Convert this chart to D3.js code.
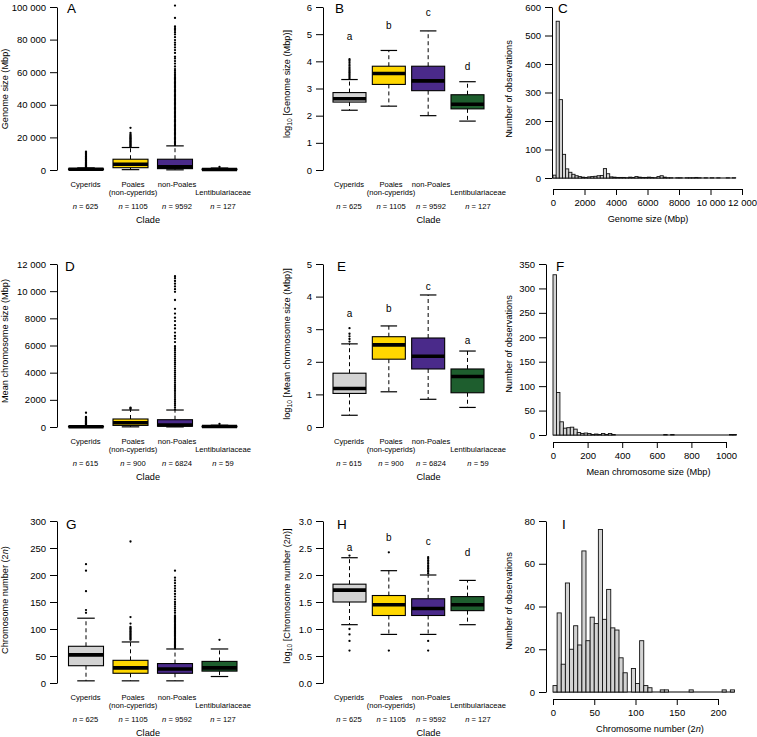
<!DOCTYPE html>
<html><head><meta charset="utf-8">
<script src="https://cdn.jsdelivr.net/npm/d3@7"></script>
<style>
body{margin:0;background:#fff}
svg text{font-family:"Liberation Sans",Arial,Helvetica,sans-serif;fill:#000}
</style></head><body>
<svg id="chart" width="757" height="737"></svg>
<script>
// ---------------- DATA ----------------
const cladeLabelLines = [["Cyperids",""],["Poales","(non-cyperids)"],["non-Poales",""],["","Lentibulariaceae"]];
const cladeColors = ["#d3d3d3","#ffd700","#4a2a8a","#1e5e2e"];

const nGenome = [625,1105,9592,127];
const nChromSize = [615,900,6824,59];
const nChromNum = [625,1105,9592,127];

// box stats: [lower whisker, Q1, median, Q3, upper whisker]
const genomeStats = [[60,316,417,708,1290],[220,1413,3548,6607,13800],[100,832,1905,6607,14800],[62,178,263,589,1200]];
const genomeOutliers = [
  [1350,1600,1900,2200,2500,2800,3100,3400,3700,4000,4400,4800,5200,5600,6000,6400,6800,7200,7600,8000,8500,9000,9500,10000,10600,11200],
  [14200,14700,15200,15700,16200,16700,17200,17700,18200,18700,19200,19700,20200,20700,21300,22000,22800,25900],
  [15200,16000,16800,17600,18400,19200,20000,20800,21600,22400,23200,24000,24800,25600,26400,27200,28000,28800,29600,30400,31200,32000,32800,33600,34400,35200,36000,36800,37600,38400,39200,40000,40800,41600,42400,43200,44000,44800,45600,46400,47200,48000,48800,49600,50400,51200,52000,52800,53600,54400,55200,56000,56800,57600,58400,59500,60800,61900,63500,65300,66800,68400,69500,71800,73600,75200,76800,78100,79700,81500,83200,84500,85900,87000,88100,93300,100900],
  [1900]
];
const logGenomeStats = [[2.2,2.5,2.62,2.85,3.33],[2.35,3.15,3.55,3.82,4.4],[2.0,2.92,3.28,3.82,5.12],[1.8,2.25,2.42,2.77,3.25]];
const logGenomeOutliers = [[3.37,3.42,3.47,3.52,3.57,3.62,3.67,3.72,3.78,3.84,3.9,3.97,4.03,4.08],[],[],[]];
const logGenomeLetters = ["a","b","c","d"];
const logGenomeLetterY = [4.92,5.31,5.78,3.81];

const genomeHistCounts = [10,550,275,83,32,20,13,8,5,3, 2,4,5,6,8,9,33,15,4,3, 2,2,2,1,3,2,5,3,2,2, 3,2,1,5,8,3,1,1,0,1, 1,0,1,1,1,2,1,0,1,0, 1,0,1,0,0,1,0,1];
const genomeHistBin = 200;

const chromSizeStats = [[3,11,15,45,95],[12,117,316,589,1250],[7,60,148,537,1250],[4,11,35,60,130]];
const chromSizeOutliers = [
  [105,130,160,190,220,250,280,310,340,370,400,430,460,500,540,580,620,660,700,740,1050],
  [1320,1380,1430],
  [1300,1450,1600,1750,1900,2050,2200,2350,2500,2650,2800,2950,3100,3250,3400,3550,3700,3850,4000,4150,4300,4450,4600,4750,4900,5050,5200,5350,5500,5650,5800,5950,6250,6500,6700,6950,7250,7500,7800,8050,8350,8700,9350,9950,10150,10350,10550,10750,10950,11100],
  [230]
];
const logChromSizeStats = [[0.36,1.03,1.18,1.65,2.55],[1.08,2.08,2.52,2.77,3.1],[0.85,1.78,2.17,2.73,4.05],[0.6,1.05,1.55,1.78,2.33]];
const logChromSizeOutliers = [[2.62,2.7,2.78,2.86,3.03],[],[],[]];
const logChromSizeLetters = ["a","b","c","a"];
const logChromSizeLetterY = [3.48,3.64,4.3,2.64];

const chromSizeHistCounts = [328,87,27,14,15,16,12,5,3,4, 3,1,2,1,3,1,3,1,0,0, 0,0,0,0,0,0,0,0,0,0, 0,0,1,0,1,0,0,0,0,0, 0,0,0,0,0,0,0,0,0,0, 0,1,1];
const chromSizeHistBin = 20;

const chromNumStats = [[4,32,52,68,120],[4,18,28,42,76],[4,18,26,36,63],[12,22,28,40,63]];
const chromNumOutliers = [
  [130,135,170,208,220],
  [80,82,84,86,88,90,92,94,96,98,100,102,104,110,122,262],
  [65,67,69,71,73,75,77,79,81,83,85,87,89,91,93,95,97,99,101,103,105,107,109,111,113,115,117,119,121,123,125,130,134,138,142,146,150,155,160,165,170,175,180,185,190,195,208],
  [80]
];
const logChromNumStats = [[1.08,1.5,1.72,1.83,2.32],[0.9,1.25,1.45,1.62,2.08],[0.9,1.25,1.38,1.56,2.0],[1.08,1.34,1.45,1.6,1.9]];
const logChromNumOutliers = [[0.6,0.78,0.9,1.0,2.36],[0.6,2.42],[0.6,0.78,2.03,2.06,2.09,2.12,2.15,2.18,2.21,2.24,2.27,2.3,2.33],[]];
const logChromNumLetters = ["a","b","c","d"];
const logChromNumLetterY = [2.51,2.7,2.62,2.41];

const chromNumHistCounts = [3,37,13,51,20,31,22,66,24,35, 32,76,34,48,30,29,16,9,0,11, 4,24,3,2,0,0,1,1,0,0, 0,0,0,1,0,0,0,0,0,0, 0,1,0,1];
const chromNumHistBin = 5;

// tick values
const ticksGenome = [0,20000,40000,60000,80000,100000];
const ticksLogGenome = [0,1,2,3,4,5,6];
const ticksGenomeHistX = [0,2000,4000,6000,8000,10000,12000];
const ticksGenomeHistY = [0,100,200,300,400,500,600];
const ticksChromSize = [0,2000,4000,6000,8000,10000,12000];
const ticksLogChromSize = [0,1,2,3,4,5];
const ticksChromSizeHistX = [0,200,400,600,800,1000];
const ticksChromSizeHistY = [0,50,100,150,200,250,300,350];
const ticksChromNum = [0,50,100,150,200,250,300];
const ticksLogChromNum = [0,0.5,1,1.5,2,2.5,3];
const ticksChromNumHistX = [0,50,100,150,200];
const ticksChromNumHistY = [0,20,40,60,80];

// ---------------- DRAWING ----------------
const svg = d3.select("#chart");
const FONT = "'Liberation Sans', Arial, Helvetica, sans-serif";
const fmtSpace = v => v >= 10000 ? d3.format(",")(v).replace(/,/g, "\u00a0") : String(v);
const fmtInt = v => String(v);
const fmt1 = d3.format(".1f");

function styleAxis(a){
  a.attr("font-family", FONT).attr("font-size", 9.5);
  a.selectAll("line,path").attr("stroke", "#000").attr("stroke-width", 1);
  a.selectAll("text").attr("fill", "#000");
}

function rotTitle(x, y, parts){
  const t = svg.append("text").attr("transform", `translate(${x},${y}) rotate(-90)`)
    .attr("text-anchor", "middle").attr("dy", "0.35em").attr("font-size", 9.2);
  parts.forEach(p => {
    const s = t.append("tspan").text(p.t);
    if (p.it) s.attr("font-style", "italic");
    if (p.sub) s.attr("font-size", 6.8).attr("dy", 2.6);
    if (p.unsub) s.attr("dy", -2.6);
  });
}

function letter(txt, x, y){
  svg.append("text").attr("x", x).attr("y", y).attr("font-size", 13.5).text(txt);
}

function boxPanel(o){
  const g = svg.append("g");
  const y = d3.scaleLinear().domain([o.ticks[0], o.ticks[o.ticks.length-1]]).range([o.yBottom, o.yTop]);
  const x = d3.scaleLinear().domain([0, 3]).range(o.centers);
  const axis = d3.axisLeft(y).tickValues(o.ticks).tickFormat(o.fmt).tickSizeInner(7).tickSizeOuter(0).tickPadding(4);
  g.append("g").attr("transform", `translate(${o.axisX},0)`).call(axis).call(styleAxis);

  const hw = o.boxW / 2;
  const items = g.selectAll("g.box").data(o.stats).join("g").attr("class", "box");
  // whiskers
  items.append("line").attr("x1", (d,i) => x(i)).attr("x2", (d,i) => x(i))
    .attr("y1", d => y(d[3])).attr("y2", d => y(d[4]))
    .attr("stroke", "#000").attr("stroke-dasharray", "4,3");
  items.append("line").attr("x1", (d,i) => x(i)).attr("x2", (d,i) => x(i))
    .attr("y1", d => y(d[1])).attr("y2", d => y(d[0]))
    .attr("stroke", "#000").attr("stroke-dasharray", "4,3");
  // caps
  items.append("line").attr("x1", (d,i) => x(i) - hw/2).attr("x2", (d,i) => x(i) + hw/2)
    .attr("y1", d => y(d[4])).attr("y2", d => y(d[4])).attr("stroke", "#000").attr("stroke-width", 1.2);
  items.append("line").attr("x1", (d,i) => x(i) - hw/2).attr("x2", (d,i) => x(i) + hw/2)
    .attr("y1", d => y(d[0])).attr("y2", d => y(d[0])).attr("stroke", "#000").attr("stroke-width", 1.2);
  // box
  items.append("rect").attr("x", (d,i) => x(i) - hw).attr("width", o.boxW)
    .attr("y", d => y(d[3])).attr("height", d => Math.max(0.01, y(d[1]) - y(d[3])))
    .attr("fill", (d,i) => cladeColors[i]).attr("stroke", "#000").attr("stroke-width", 1.1);
  // median
  items.append("line").attr("x1", (d,i) => x(i) - hw).attr("x2", (d,i) => x(i) + hw)
    .attr("y1", d => y(d[2])).attr("y2", d => y(d[2])).attr("stroke", "#000").attr("stroke-width", 3.6);
  // outliers
  o.outliers.forEach((arr, i) => {
    g.selectAll(null).data(arr).join("circle")
      .attr("cx", x(i)).attr("cy", v => y(v)).attr("r", 1.15).attr("fill", "#000");
  });
  // significance letters
  if (o.letters){
    g.selectAll(null).data(o.letters).join("text")
      .attr("x", (d,i) => x(i)).attr("y", (d,i) => y(o.letterY[i])).attr("dy", "0.35em")
      .attr("text-anchor", "middle").attr("font-size", 10).text(d => d);
  }
  // category labels
  const z = o.yBottom;
  cladeLabelLines.forEach((lines, i) => {
    lines.forEach((ln, j) => {
      if (!ln) return;
      g.append("text").attr("x", o.labelX[i]).attr("y", z + 17 + j*8).attr("text-anchor", "middle")
        .attr("font-size", 7.6).text(ln);
    });
    const t = g.append("text").attr("x", o.labelX[i]).attr("y", z + 39).attr("text-anchor", "middle").attr("font-size", 7.6);
    t.append("tspan").attr("font-style", "italic").text("n");
    t.append("tspan").text(" = " + o.n[i]);
  });
  g.append("text").attr("x", o.cladeX).attr("y", z + 53).attr("text-anchor", "middle").attr("font-size", 9.2).text("Clade");
}

function histPanel(o){
  const g = svg.append("g");
  const x = d3.scaleLinear().domain([o.xTicks[0], o.xTicks[o.xTicks.length-1]]).range([o.x0, o.x1]);
  const y = d3.scaleLinear().domain([o.yTicks[0], o.yTicks[o.yTicks.length-1]]).range([o.y0, o.yTop]);
  const bins = o.counts.map((c, i) => ({a: i*o.bin, b: (i+1)*o.bin, c}));
  g.append("line").attr("x1", x(0)).attr("x2", x(bins[bins.length-1].b)).attr("y1", o.y0).attr("y2", o.y0)
    .attr("stroke", "#000").attr("stroke-width", 1);
  g.selectAll("rect").data(bins.filter(d => d.c > 0)).join("rect")
    .attr("x", d => x(d.a)).attr("width", d => x(d.b) - x(d.a))
    .attr("y", d => y(d.c)).attr("height", d => y(0) - y(d.c))
    .attr("fill", "#d3d3d3").attr("stroke", "#111").attr("stroke-width", 0.9);
  g.append("g").attr("transform", `translate(${o.yAxisX},0)`)
    .call(d3.axisLeft(y).tickValues(o.yTicks).tickFormat(fmtInt).tickSizeInner(7).tickSizeOuter(0).tickPadding(4)).call(styleAxis);
  g.append("g").attr("transform", `translate(0,${o.xAxisY})`)
    .call(d3.axisBottom(x).tickValues(o.xTicks).tickFormat(fmtSpace).tickSizeInner(6).tickSizeOuter(0).tickPadding(4)).call(styleAxis);
  const t = g.append("text").attr("x", o.titleX).attr("y", o.xAxisY + 33).attr("text-anchor", "middle").attr("font-size", 9.2);
  o.title.forEach(p => { const s = t.append("tspan").text(p.t); if (p.it) s.attr("font-style", "italic"); });
}

const leftCol = {axisX: 57, centers: [86, 219.5], boxW: 35, labelX: [85.5,133,177,223], cladeX: 148};
const midCol = {axisX: 323, centers: [349.5, 467.5], boxW: 33, labelX: [349,391,431,478], cladeX: 428.5};

// Row 1
boxPanel({...leftCol, yTop: 7, yBottom: 170, ticks: ticksGenome, fmt: fmtSpace, stats: genomeStats, outliers: genomeOutliers, n: nGenome});
boxPanel({...midCol, yTop: 7, yBottom: 170, ticks: ticksLogGenome, fmt: fmtInt, stats: logGenomeStats, outliers: logGenomeOutliers, n: nGenome, letters: logGenomeLetters, letterY: logGenomeLetterY});
histPanel({counts: genomeHistCounts, bin: genomeHistBin, xTicks: ticksGenomeHistX, yTicks: ticksGenomeHistY, x0: 553, x1: 742, y0: 178, yTop: 7, yAxisX: 552, xAxisY: 189, titleX: 648, title: [{t: "Genome size (Mbp)"}]});

// Row 2
boxPanel({...leftCol, yTop: 264, yBottom: 427, ticks: ticksChromSize, fmt: fmtSpace, stats: chromSizeStats, outliers: chromSizeOutliers, n: nChromSize});
boxPanel({...midCol, yTop: 264, yBottom: 427, ticks: ticksLogChromSize, fmt: fmtInt, stats: logChromSizeStats, outliers: logChromSizeOutliers, n: nChromSize, letters: logChromSizeLetters, letterY: logChromSizeLetterY});
histPanel({counts: chromSizeHistCounts, bin: chromSizeHistBin, xTicks: ticksChromSizeHistX, yTicks: ticksChromSizeHistY, x0: 553, x1: 726, y0: 435, yTop: 264, yAxisX: 546, xAxisY: 442, titleX: 648.5, title: [{t: "Mean chromosome size (Mbp)"}]});

// Row 3
boxPanel({...leftCol, yTop: 521, yBottom: 683, ticks: ticksChromNum, fmt: fmtInt, stats: chromNumStats, outliers: chromNumOutliers, n: nChromNum});
boxPanel({...midCol, yTop: 521, yBottom: 683, ticks: ticksLogChromNum, fmt: fmt1, stats: logChromNumStats, outliers: logChromNumOutliers, n: nChromNum, letters: logChromNumLetters, letterY: logChromNumLetterY});
histPanel({counts: chromNumHistCounts, bin: chromNumHistBin, xTicks: ticksChromNumHistX, yTicks: ticksChromNumHistY, x0: 553, x1: 718, y0: 692, yTop: 521, yAxisX: 546, xAxisY: 699, titleX: 650, title: [{t: "Chromosome number ("}, {t: "2"}, {t: "n", it: true}, {t: ")"}]});

// Axis titles
rotTitle(4.5, 89, [{t: "Genome size (Mbp)"}]);
rotTitle(4.5, 341, [{t: "Mean chromosome size (Mbp)"}]);
rotTitle(4.5, 600, [{t: "Chromosome number (2"}, {t: "n", it: true}, {t: ")"}]);
rotTitle(286.5, 84, [{t: "log"}, {t: "10", sub: true}, {t: " [Genome size (Mbp)]", unsub: true}]);
rotTitle(286.5, 344, [{t: "log"}, {t: "10", sub: true}, {t: " [Mean chromosome size (Mbp)]", unsub: true}]);
rotTitle(286.5, 596, [{t: "log"}, {t: "10", sub: true}, {t: " [Chromosome number (2", unsub: true}, {t: "n", it: true}, {t: ")]"}]);
rotTitle(509, 89, [{t: "Number of observations"}]);
rotTitle(509, 344, [{t: "Number of observations"}]);
rotTitle(509, 601, [{t: "Number of observations"}]);

// Panel letters
letter("A", 67, 13); letter("B", 335, 13); letter("C", 558, 13);
letter("D", 65, 271); letter("E", 337, 271); letter("F", 556, 271);
letter("G", 66, 529); letter("H", 337, 529); letter("I", 562, 529);
</script></body></html>
